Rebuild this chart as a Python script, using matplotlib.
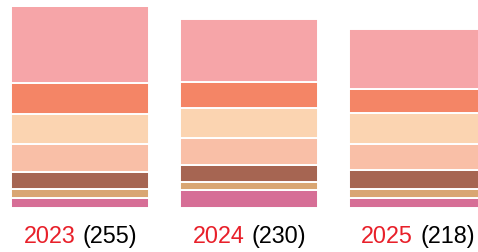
import numpy as np
import matplotlib
matplotlib.use("Agg")
import matplotlib.pyplot as plt

# data, bottom to top of each stack
years = ["2023", "2024", "2025"]
totals = [255, 230, 218]
magenta = [12, 21, 12]
tan = [10, 10, 10]
brown = [21, 21, 24]
peach = [35, 33, 32]
light_peach = [36, 36, 37]
orange = [38, 32, 29]
pink = [103, 77, 74]

series = [magenta, tan, brown, peach, light_peach, orange, pink]
colors = ["#D66E96", "#D9A673", "#A66552", "#F9BFA7", "#FBD4B1", "#F48566", "#F6A5A8"]

W, H = 478, 253
fig = plt.figure(figsize=(W / 100, H / 100), dpi=100)
# axes: bottom of bars at ~208.5px, top clipped at 8px
ax = fig.add_axes([0, (H - 208.5) / H, 1, (208.5 - 7.5) / H])

x = np.arange(len(years))
bottom = np.zeros(len(years))
for vals, c in zip(series, colors):
    ax.bar(x, vals, width=0.815, bottom=bottom, color=c,
           edgecolor="white", linewidth=1.4)
    bottom += np.array(vals)

ax.set_xlim(-0.475, 2.355)
ax.set_ylim(0, 245)
ax.axis("off")

# two-colour labels under each bar
fig.canvas.draw()
r = fig.canvas.get_renderer()
fs = 16.8
gap = 7
for i, (yr, tot) in enumerate(zip(years, totals)):
    t1 = fig.text(0, 9.5 / H, yr, color="#E8202A", fontsize=fs,
                  family="Liberation Sans", va="baseline")
    t2 = fig.text(0, 9.5 / H, "(%d)" % tot, color="black", fontsize=fs,
                  family="Liberation Sans", va="baseline")
    w1 = t1.get_window_extent(r).width
    w2 = t2.get_window_extent(r).width
    cx = ax.transData.transform((i, 0))[0]
    left = cx - (w1 + gap + w2) / 2
    t1.set_x(left / W)
    t2.set_x((left + w1 + gap) / W)

fig.savefig("out.png", dpi=100)
